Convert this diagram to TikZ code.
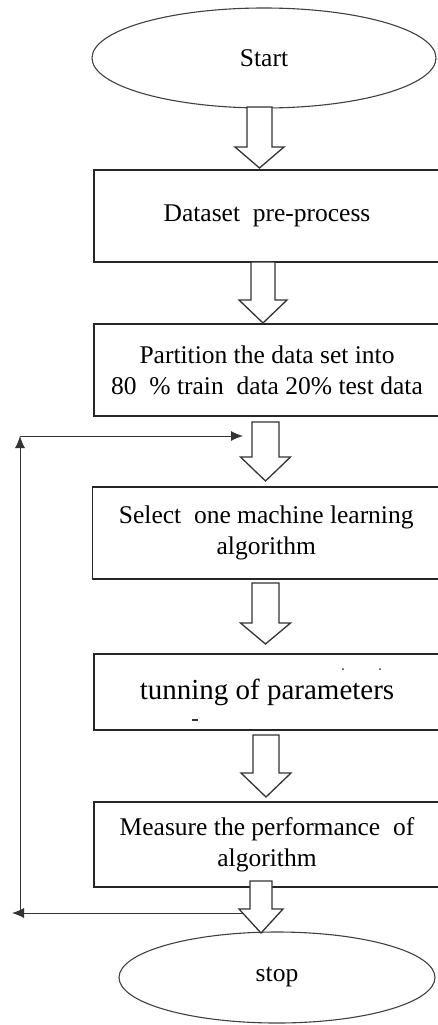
\documentclass[tikz,border=0pt]{standalone}
\usepackage{fontspec}
\setmainfont{Liberation Serif}
\usetikzlibrary{shapes.geometric,calc,arrows.meta}
\tikzset{
 box/.style={draw=black!85, line width=1.3pt, rectangle, inner sep=0pt, align=center, font=\fontsize{25.5}{31}\selectfont},
 oval/.style={draw=black!75, line width=1.1pt, ellipse, inner sep=0pt, font=\fontsize{25.5}{31}\selectfont},
 hollow/.style={draw=black!80, line width=1.3pt, fill=white, line join=miter},
 fb/.style={draw=black!80, line width=1pt, -{Latex[length=12pt,width=10pt]}},
}
\newcommand\harrow[5]{%
 \draw[hollow] let \p1=(#1), \p2=(#2) in
 (\x2-#3pt,\y1) -- (\x2-#3pt,\y2+#5pt) -- (\x2-#4pt,\y2+#5pt) -- (\x2,\y2) --
 (\x2+#4pt,\y2+#5pt) -- (\x2+#3pt,\y2+#5pt) -- (\x2+#3pt,\y1) -- cycle;}
\begin{document}
\begin{tikzpicture}[x=1pt,y=1pt]
\useasboundingbox (0,0) rectangle (437,-1025);
% terminals
\node[oval, minimum width=344pt, minimum height=100pt] (start) at (264,-58) {Start};
\node[oval, minimum width=316pt, minimum height=91pt] (stop) at (277,-977.5) {stop};
% boxes
\node[box, minimum width=346pt, minimum height=92pt] (b1) at (267,-216) {Dataset\ \ pre-process};
\node[box, minimum width=346pt, minimum height=92pt] (b2) at (267,-370) {Partition the data set into\\80\ \ \% train\ \ data 20\% test data};
\node[box, minimum width=347.5pt, minimum height=92pt] (b3) at (266.25,-533) {Select\ \ one machine learning\\algorithm};
\node[box, minimum width=346pt, minimum height=76pt, font=\fontsize{29}{34}\selectfont] (b4) at (267,-692) {tunning\ of parameters};
\node[box, minimum width=346pt, minimum height=85pt] (b5) at (267,-844.5) {Measure the performance\ \ of\\algorithm};
% stray marks in tuning box
\fill[black!80] (343,-669) circle (1);
\fill[black!80] (380,-669) circle (1);
\draw[black!80, line width=1.2pt] (192,-720) -- (198,-720);
% feedback loop
\coordinate (fbA) at (261,-913);
\coordinate (fbL) at (12,-913);
\coordinate (fbB) at (20,-913);
\coordinate (fbC) at (20,-436);
\coordinate (fbD) at (243,-436);
\draw[fb] (fbA) -- (fbL);
\draw[fb] (fbB) -- (fbC);
\draw[fb] (fbC) -- (fbD);
% hollow arrows
\coordinate (a1t) at (259.5,-107); \coordinate (a1b) at (259.5,-168);
\coordinate (a2t) at (263,-262);   \coordinate (a2b) at (263,-323);
\coordinate (a3t) at (265.5,-422); \coordinate (a3b) at (265.5,-481);
\coordinate (a4t) at (265.5,-583); \coordinate (a4b) at (265.5,-644);
\coordinate (a5t) at (266,-735);   \coordinate (a5b) at (266,-797);
\coordinate (a6t) at (261,-881);   \coordinate (a6b) at (261,-933);
\harrow{a1t}{a1b}{12.5}{24.5}{21}
\harrow{a2t}{a2b}{12}{24}{23}
\harrow{a3t}{a3b}{13.5}{25}{24}
\harrow{a4t}{a4b}{13.5}{25}{21}
\harrow{a5t}{a5b}{13}{25}{24}
\harrow{a6t}{a6b}{11}{22}{24}
\end{tikzpicture}
\end{document}
